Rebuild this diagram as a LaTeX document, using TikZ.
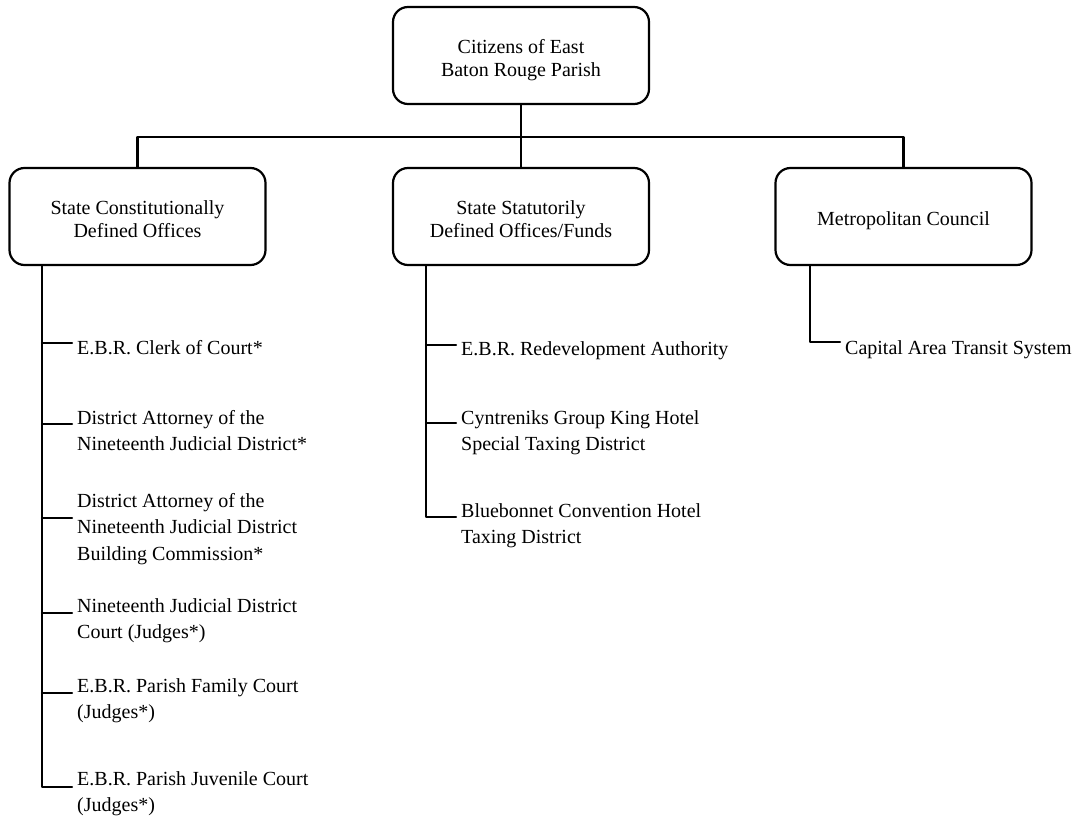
\documentclass[tikz,border=0pt]{standalone}
\usepackage{fontspec}
\setmainfont{Liberation Serif}
\begin{document}
\begin{tikzpicture}[x=1pt,y=-1pt,
  conn/.style={line width=2.2pt,line cap=round,line join=round},
  orgbox/.style={draw,line width=2.2pt,rounded corners=15pt,minimum width=256pt,minimum height=97pt,
    align=center,inner sep=0pt,font=\fontsize{20}{23}\selectfont},
  twoline/.style={text height=47pt,text depth=5pt},
  oneline/.style={text height=22pt,text depth=5pt},
  item/.style={anchor=base west,align=left,inner xsep=5pt,inner ysep=0pt,font=\fontsize{20}{26.5}\selectfont}]
\useasboundingbox (0,0) rectangle (1083,821);

% boxes
\node[orgbox,twoline] (top) at (521,55.5) {Citizens of East\\Baton Rouge Parish};
\node[orgbox,twoline] (sc) at (137.5,216.5) {State Constitutionally\\Defined Offices};
\node[orgbox,twoline] (ss) at (521,216.5) {State Statutorily\\Defined Offices/Funds};
\node[orgbox,oneline] (met) at (903.5,216.5) {Metropolitan Council};

% bus
\coordinate (bus) at (521,137);
\draw[conn] (top.south) -- (ss.north);
\draw[conn] (sc.north) |- (bus) -| (met.north);

% left column (anchor = baseline of last line)
\node[item] (l1) at (72,354) {E.B.R. Clerk of Court*};
\node[item] (l2) at (72,450.5) {District Attorney of the\\Nineteenth Judicial District*};
\node[item] (l3) at (72,560) {District Attorney of the\\Nineteenth Judicial District\\Building Commission*};
\node[item] (l4) at (72,638.5) {Nineteenth Judicial District\\Court (Judges*)};
\node[item] (l5) at (72,718.5) {E.B.R. Parish Family Court\\(Judges*)};
\node[item] (l6) at (72,811.5) {E.B.R. Parish Juvenile Court\\(Judges*)};
\coordinate (lt1) at (42,343);
\coordinate (lt2) at (42,424);
\coordinate (lt3) at (42,518);
\coordinate (lt4) at (42,613);
\coordinate (lt5) at (42,693);
\coordinate (lt6) at (42,787);
\draw[conn] (sc.south -| lt1) -- (lt6) -- (lt6 -| l6.west);
\foreach \i in {1,...,5} {\draw[conn] (lt\i) -- (lt\i -| l\i.west);}

% middle column
\node[item] (m1) at (456,355) {E.B.R. Redevelopment Authority};
\node[item] (m2) at (456,450.5) {Cyntreniks Group King Hotel\\Special Taxing District};
\node[item] (m3) at (456,543.5) {Bluebonnet Convention Hotel\\Taxing District};
\coordinate (mt1) at (426,345);
\coordinate (mt2) at (426,423);
\coordinate (mt3) at (426,517);
\draw[conn] (ss.south -| mt1) -- (mt3) -- (mt3 -| m3.west);
\foreach \i in {1,2} {\draw[conn] (mt\i) -- (mt\i -| m\i.west);}

% right column
\node[item] (r1) at (840,354) {Capital Area Transit System};
\coordinate (rt1) at (810,342);
\draw[conn] (met.south -| rt1) -- (rt1) -- (rt1 -| r1.west);
\end{tikzpicture}
\end{document}
